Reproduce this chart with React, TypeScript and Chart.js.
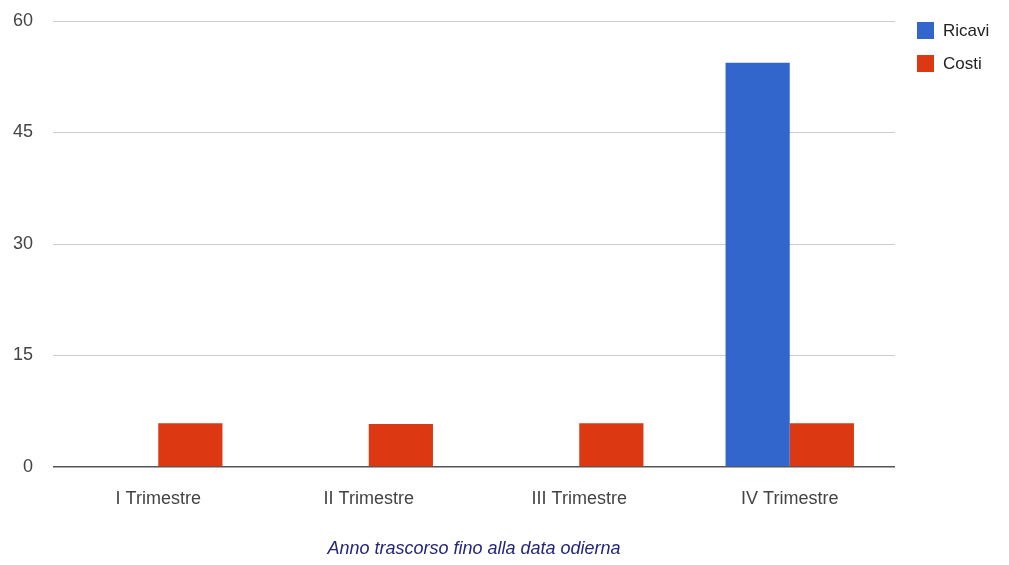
import React, { useEffect, useRef } from "react";
import { Chart, registerables } from "chart.js";

Chart.register(...registerables);

// Quarterly revenue and cost figures
const categories = ["I Trimestre", "II Trimestre", "III Trimestre", "IV Trimestre"];
const ricavi = [0, 0, 0, 54.4];
const costi = [5.9, 5.8, 5.9, 5.9];
const seriesNames = ["Ricavi", "Costi"];
const seriesColors = ["#3366cc", "#dc3912"];
const yTicks = { min: 0, max: 60, step: 15 };
const caption = "Anno trascorso fino alla data odierna";

const FONT = "'Liberation Sans', Arial, sans-serif";

// Simple legend drawn in the right-hand margin
const sideLegend = {
  id: "sideLegend",
  afterDraw(chart: any) {
    const { ctx } = chart;
    ctx.save();
    ctx.font = `17px ${FONT}`;
    ctx.textBaseline = "middle";
    ctx.textAlign = "left";
    chart.data.datasets.forEach((ds: any, i: number) => {
      const y = 22 + i * 33;
      ctx.fillStyle = ds.backgroundColor;
      ctx.fillRect(917, y, 17, 17);
      ctx.fillStyle = "#222222";
      ctx.fillText(ds.label, 943, y + 9);
    });
    ctx.restore();
  },
};

export default function App() {
  const canvasRef = useRef<HTMLCanvasElement | null>(null);

  useEffect(() => {
    if (!canvasRef.current) return;
    const chart = new Chart(canvasRef.current, {
      type: "bar",
      data: {
        labels: categories,
        datasets: [
          { label: seriesNames[0], data: ricavi, backgroundColor: seriesColors[0], borderWidth: 0 },
          { label: seriesNames[1], data: costi, backgroundColor: seriesColors[1], borderWidth: 0 },
        ],
      },
      options: {
        responsive: false,
        animation: false,
        layout: { padding: { top: 21, right: 114, left: 0, bottom: 0 } },
        datasets: { bar: { categoryPercentage: 0.61, barPercentage: 1 } },
        plugins: {
          legend: { display: false },
          tooltip: { enabled: false },
        },
        scales: {
          x: {
            grid: { display: false },
            border: { display: false },
            ticks: {
              color: "#444444",
              font: { family: FONT, size: 18 },
              padding: 13,
            },
            title: {
              display: true,
              text: caption,
              color: "#25257a",
              font: { family: FONT, size: 18, style: "italic" },
              padding: { top: 0, bottom: 5 },
            },
            afterFit(scale: any) {
              scale.height = 98;
            },
          },
          y: {
            min: yTicks.min,
            max: yTicks.max,
            border: { display: false },
            grid: {
              drawTicks: false,
              color: (ctx: any) => (ctx.tick && ctx.tick.value === 0 ? "#555555" : "#cccccc"),
              lineWidth: (ctx: any) => (ctx.tick && ctx.tick.value === 0 ? 1.5 : 1),
            },
            ticks: {
              stepSize: yTicks.step,
              color: "#444444",
              font: { family: FONT, size: 18 },
              padding: 20,
            },
            afterFit(scale: any) {
              scale.width = 53;
              // keep the horizontal label gap from pushing the plot area down
              scale.paddingTop = 10;
              scale.paddingBottom = 10;
            },
          },
        },
      },
      plugins: [sideLegend],
    });
    return () => chart.destroy();
  }, []);

  return (
    <div style={{ position: "absolute", left: 0, top: 0, width: 1009, height: 565, background: "#ffffff" }}>
      <canvas ref={canvasRef} width={1009} height={565} style={{ display: "block" }} />
    </div>
  );
}
